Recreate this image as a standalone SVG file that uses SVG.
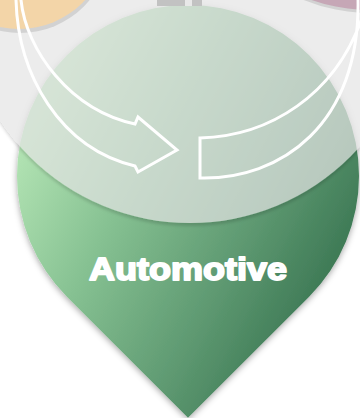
<svg xmlns="http://www.w3.org/2000/svg" width="360" height="418" viewBox="0 0 360 418">
  <defs>
    <linearGradient id="pinGrad" gradientUnits="userSpaceOnUse" x1="17" y1="150" x2="359" y2="330">
      <stop offset="0" stop-color="#b2e3b3"/>
      <stop offset="0.3" stop-color="#86c192"/>
      <stop offset="0.62" stop-color="#5f9a72"/>
      <stop offset="1" stop-color="#2d6947"/>
    </linearGradient>
    <filter id="pinShadow" x="-20%" y="-20%" width="140%" height="140%">
      <feDropShadow dx="0" dy="2" stdDeviation="3" flood-color="#000" flood-opacity="0.35"/>
    </filter>
    <filter id="ovShadow" x="-20%" y="-20%" width="140%" height="140%">
      <feDropShadow dx="0" dy="3" stdDeviation="1.5" flood-color="#000" flood-opacity="0.22"/>
    </filter>
    <style>
      .arrow { fill: none; stroke: #ffffff; stroke-width: 3; stroke-linejoin: miter; }
      .label { font-family: "Liberation Sans", Arial, sans-serif; font-weight: bold; fill: #ffffff; stroke: #ffffff; stroke-width: 1.8; stroke-linejoin: round; }
      .shadowband { fill: #d2d2d2; }
    </style>
  </defs>

  <rect x="0" y="0" width="360" height="418" fill="#ffffff"/>

  <g id="automotive">
    <path d="M 67.1 296.9 A 171 171 0 1 1 308.9 296.9 L 188 417.8 Z" fill="url(#pinGrad)" filter="url(#pinShadow)"/>
  </g>

  <g id="cycle-overlay">
    <circle cx="190" cy="-4" r="227" fill="#ececec" fill-opacity="0.66" filter="url(#ovShadow)"/>
  </g>

  <g id="beige-node">
    <circle class="shadowband" cx="20" cy="-57" r="90"/>
    <circle cx="19" cy="-61" r="90" fill="#f3d5a8"/>
  </g>

  <g id="mauve-node">
    <circle class="shadowband" cx="370" cy="-163" r="176"/>
    <circle cx="370" cy="-166" r="176" fill="#c6a7b6"/>
  </g>

  <g id="top-node">
    <rect x="157" y="0" width="45" height="6" fill="#c2c2c2"/>
    <rect x="185" y="0" width="7" height="6" fill="#e8e8e8"/>
  </g>

  <g id="connectors">
    <path class="arrow" d="M 21 -4 L 21 0 C 26 50 70 110 135 124 L 138 117 L 177 150 L 138 172 L 135 166 C 60 148 18 75 16 0 L 16 -4"/>
    <path class="arrow" d="M 362 18 C 335 95 270 136 200 138 L 200 178 C 280 180 361 125 358 -2 L 358 -6"/>
  </g>

  <g id="automotive-label">
    <text class="label" x="188" y="280" font-size="31" text-anchor="middle" textLength="198" lengthAdjust="spacingAndGlyphs">Automotive</text>
  </g>
</svg>
